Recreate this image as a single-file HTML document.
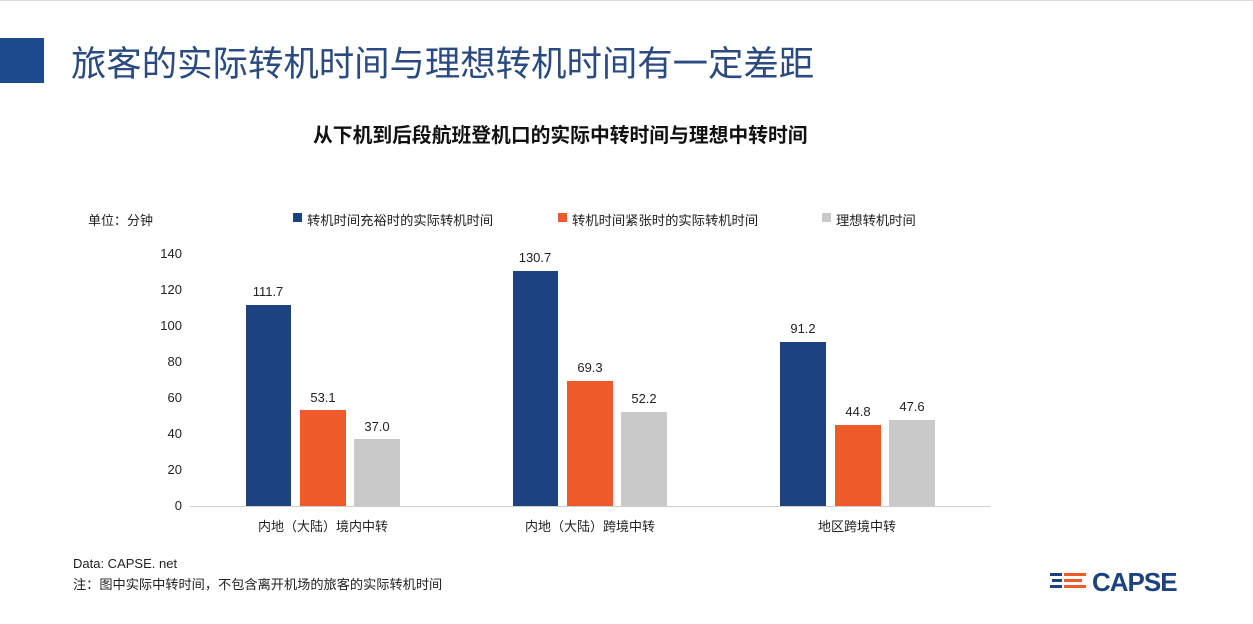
<!DOCTYPE html>
<html><head><meta charset="utf-8"><style>
body{margin:0;width:1253px;height:624px;background:#fff;overflow:hidden;font-family:"Liberation Sans","Noto Sans CJK SC",sans-serif;position:relative}
.a{position:absolute;white-space:nowrap}
.bar{position:absolute}
.v{position:absolute;font-size:13px;color:#222;width:60px;text-align:center}
.y{position:absolute;font-size:13px;color:#222;width:40px;text-align:right;left:142px}
.c{position:absolute;font-size:13px;color:#222;width:200px;text-align:center;top:516px}
</style></head><body>
<div class="a" style="left:0;top:0;width:1253px;height:1px;background:#ddd"></div>
<div class="a" style="left:0;top:38px;width:44px;height:45px;background:#1c4a8a"></div>
<div class="a" style="left:71px;top:36px;font-size:35.4px;color:#2b4a80">旅客的实际转机时间与理想转机时间有一定差距</div>
<div class="a" style="left:313px;top:119px;font-size:19.8px;font-weight:bold;color:#111">从下机到后段航班登机口的实际中转时间与理想中转时间</div>
<div class="a" style="left:88px;top:210px;font-size:13px;color:#222">单位：分钟</div>
<div class="a" style="left:293px;top:213px;width:9px;height:9px;background:#1c437f"></div>
<div class="a" style="left:307px;top:210px;font-size:13.3px;color:#222">转机时间充裕时的实际转机时间</div>
<div class="a" style="left:558px;top:213px;width:9px;height:9px;background:#ef5a2a"></div>
<div class="a" style="left:572px;top:210px;font-size:13.3px;color:#222">转机时间紧张时的实际转机时间</div>
<div class="a" style="left:822px;top:213px;width:9px;height:9px;background:#c9c9c9"></div>
<div class="a" style="left:836px;top:210px;font-size:13.3px;color:#222">理想转机时间</div>
<div class="y" style="top:246px">140</div><div class="y" style="top:282px">120</div><div class="y" style="top:318px">100</div><div class="y" style="top:354px">80</div><div class="y" style="top:390px">60</div><div class="y" style="top:426px">40</div><div class="y" style="top:462px">20</div><div class="y" style="top:498px">0</div>
<div class="a" style="left:190px;top:506px;width:800px;height:1px;background:#ccc"></div>
<div class="bar" style="left:246px;top:305px;width:45px;height:201px;background:#1c437f"></div>
<div class="bar" style="left:300px;top:410px;width:46px;height:96px;background:#ef5a2a"></div>
<div class="bar" style="left:354px;top:439px;width:46px;height:67px;background:#c9c9c9"></div>
<div class="bar" style="left:513px;top:271px;width:45px;height:235px;background:#1c437f"></div>
<div class="bar" style="left:567px;top:381px;width:46px;height:125px;background:#ef5a2a"></div>
<div class="bar" style="left:621px;top:412px;width:46px;height:94px;background:#c9c9c9"></div>
<div class="bar" style="left:780px;top:342px;width:46px;height:164px;background:#1c437f"></div>
<div class="bar" style="left:835px;top:425px;width:46px;height:81px;background:#ef5a2a"></div>
<div class="bar" style="left:889px;top:420px;width:46px;height:86px;background:#c9c9c9"></div>
<div class="v" style="left:238px;top:284px">111.7</div>
<div class="v" style="left:293px;top:390px">53.1</div>
<div class="v" style="left:347px;top:419px">37.0</div>
<div class="v" style="left:505px;top:250px">130.7</div>
<div class="v" style="left:560px;top:360px">69.3</div>
<div class="v" style="left:614px;top:391px">52.2</div>
<div class="v" style="left:773px;top:321px">91.2</div>
<div class="v" style="left:828px;top:404px">44.8</div>
<div class="v" style="left:882px;top:399px">47.6</div>
<div class="c" style="left:223px">内地（大陆）境内中转</div>
<div class="c" style="left:490px">内地（大陆）跨境中转</div>
<div class="c" style="left:757px">地区跨境中转</div>
<div class="a" style="left:73px;top:556px;font-size:13px;color:#222">Data: CAPSE. net</div>
<div class="a" style="left:73px;top:574px;font-size:13.2px;color:#222">注：图中实际中转时间，不包含离开机场的旅客的实际转机时间</div>
<div class="a" style="left:1050px;top:573px;width:12px;height:3px;background:#1c437f"></div>
<div class="a" style="left:1064px;top:573px;width:22px;height:3px;background:#ef5a2a"></div>
<div class="a" style="left:1052px;top:579px;width:10px;height:3px;background:#1c437f"></div>
<div class="a" style="left:1064px;top:579px;width:18px;height:3px;background:#ef5a2a"></div>
<div class="a" style="left:1050px;top:585px;width:12px;height:3px;background:#1c437f"></div>
<div class="a" style="left:1064px;top:585px;width:22px;height:3px;background:#ef5a2a"></div>
<div class="a" style="left:1092px;top:567px;font-size:26px;font-weight:bold;color:#1c437f;letter-spacing:-1px">CAPSE</div>
</body></html>
